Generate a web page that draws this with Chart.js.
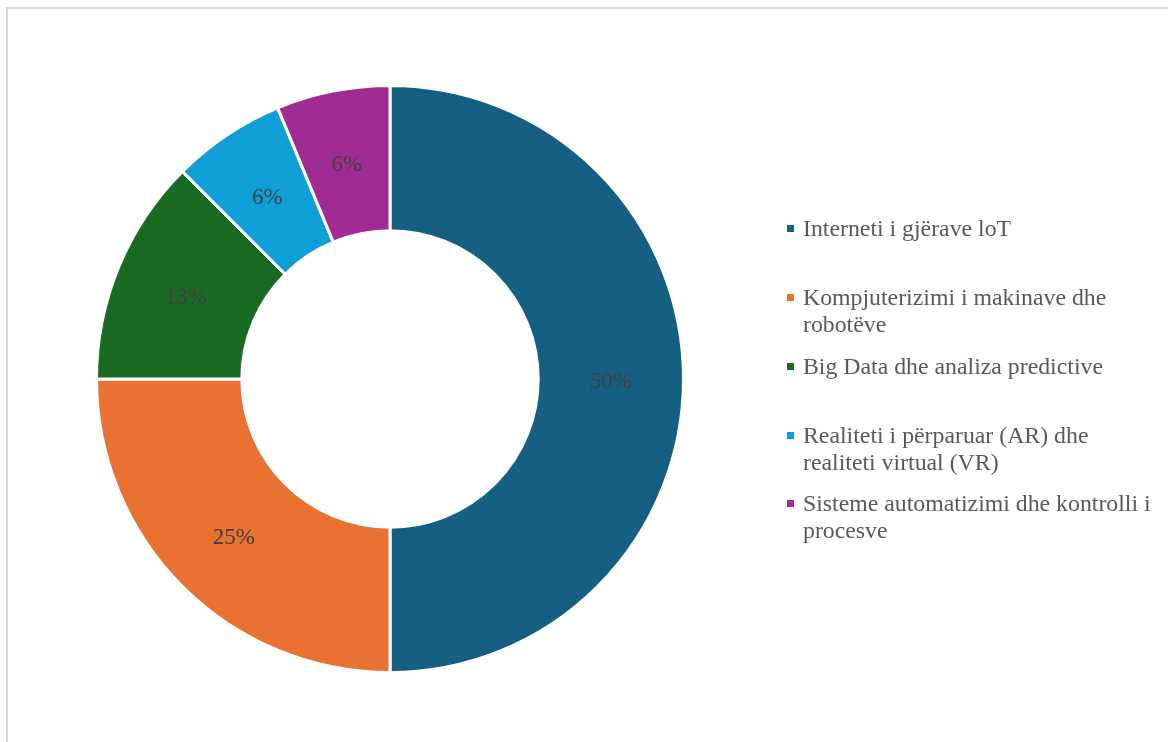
<!DOCTYPE html>
<html>
<head>
<meta charset="utf-8">
<script src="https://cdn.jsdelivr.net/npm/chart.js@4.4.1/dist/chart.umd.min.js"></script>
<style>
  html, body { margin: 0; padding: 0; background: #fff; }
  #page { position: relative; width: 1168px; height: 742px; overflow: hidden; }
  #frame {
    position: absolute; left: 6px; top: 7px; width: 1200px; height: 800px;
    border: 2px solid #d9d9d9; box-sizing: border-box;
  }
  #wrap { position: absolute; left: 0; top: 0; width: 1168px; height: 742px; }
  #legend {
    position: absolute; left: 787px; top: 0; width: 380px;
    font-family: "Liberation Serif", "Times New Roman", serif;
    font-size: 23.8px; line-height: 27px; color: #595959;
  }
  .item { position: absolute; left: 0; width: 380px; }
  .box { position: absolute; left: 0; top: 10px; width: 7px; height: 7px; }
  .txt { position: absolute; left: 16px; top: 0; width: 364px; white-space: nowrap; }
</style>
</head>
<body>
<div id="page">
  <div id="frame"></div>
  <div id="wrap"><canvas id="chart"></canvas></div>
  <div id="legend"></div>
</div>
<script>
const labels = [
  "Interneti i gjërave loT",
  "Kompjuterizimi i makinave dhe robotëve",
  "Big Data dhe analiza predictive",
  "Realiteti i përparuar (AR) dhe realiteti virtual (VR)",
  "Sisteme automatizimi dhe kontrolli i procesve",
];
const legendLines = [
  ["Interneti i gjërave loT"],
  ["Kompjuterizimi i makinave dhe", "robotëve"],
  ["Big Data dhe analiza predictive"],
  ["Realiteti i përparuar (AR) dhe", "realiteti virtual (VR)"],
  ["Sisteme automatizimi dhe kontrolli i", "procesve"],
];
const shares = [50, 25, 12.5, 6.25, 6.25];
const colors = ["#156082", "#E97132", "#196B24", "#0F9ED5", "#A02B93"];

// percentage labels drawn at each slice's middle
const sliceLabels = {
  id: "sliceLabels",
  afterDatasetsDraw(chart) {
    const { ctx } = chart;
    const meta = chart.getDatasetMeta(0);
    const total = shares.reduce((a, b) => a + b, 0);
    ctx.save();
    ctx.font = '23px "Liberation Serif", "Times New Roman", serif';
    ctx.fillStyle = "#404040";
    ctx.textAlign = "center";
    ctx.textBaseline = "middle";
    meta.data.forEach((arc, i) => {
      const p = arc.tooltipPosition();
      ctx.fillText(Math.round(shares[i] / total * 100) + "%", p.x, p.y + 3);
    });
    ctx.restore();
  },
};

new Chart(document.getElementById("chart"), {
  type: "doughnut",
  data: {
    labels,
    datasets: [{
      data: shares,
      backgroundColor: colors,
      borderColor: "#ffffff",
      borderWidth: 3,
      hoverOffset: 0,
    }],
  },
  options: {
    responsive: true,
    maintainAspectRatio: false,
    animation: false,
    cutout: "50.5%",
    layout: { padding: { left: 95, right: 483, top: 84, bottom: 68 } },
    plugins: {
      legend: { display: false },
      tooltip: { enabled: false },
    },
  },
  plugins: [sliceLabels],
});

const legendTops = [215, 284, 353, 422, 490];
const legendEl = document.getElementById("legend");
legendLines.forEach((lines, i) => {
  const item = document.createElement("div");
  item.className = "item";
  item.style.top = legendTops[i] + "px";
  const box = document.createElement("div");
  box.className = "box";
  box.style.background = colors[i];
  const txt = document.createElement("div");
  txt.className = "txt";
  txt.innerHTML = lines.join("<br>");
  item.appendChild(box);
  item.appendChild(txt);
  legendEl.appendChild(item);
});
</script>
</body>
</html>
